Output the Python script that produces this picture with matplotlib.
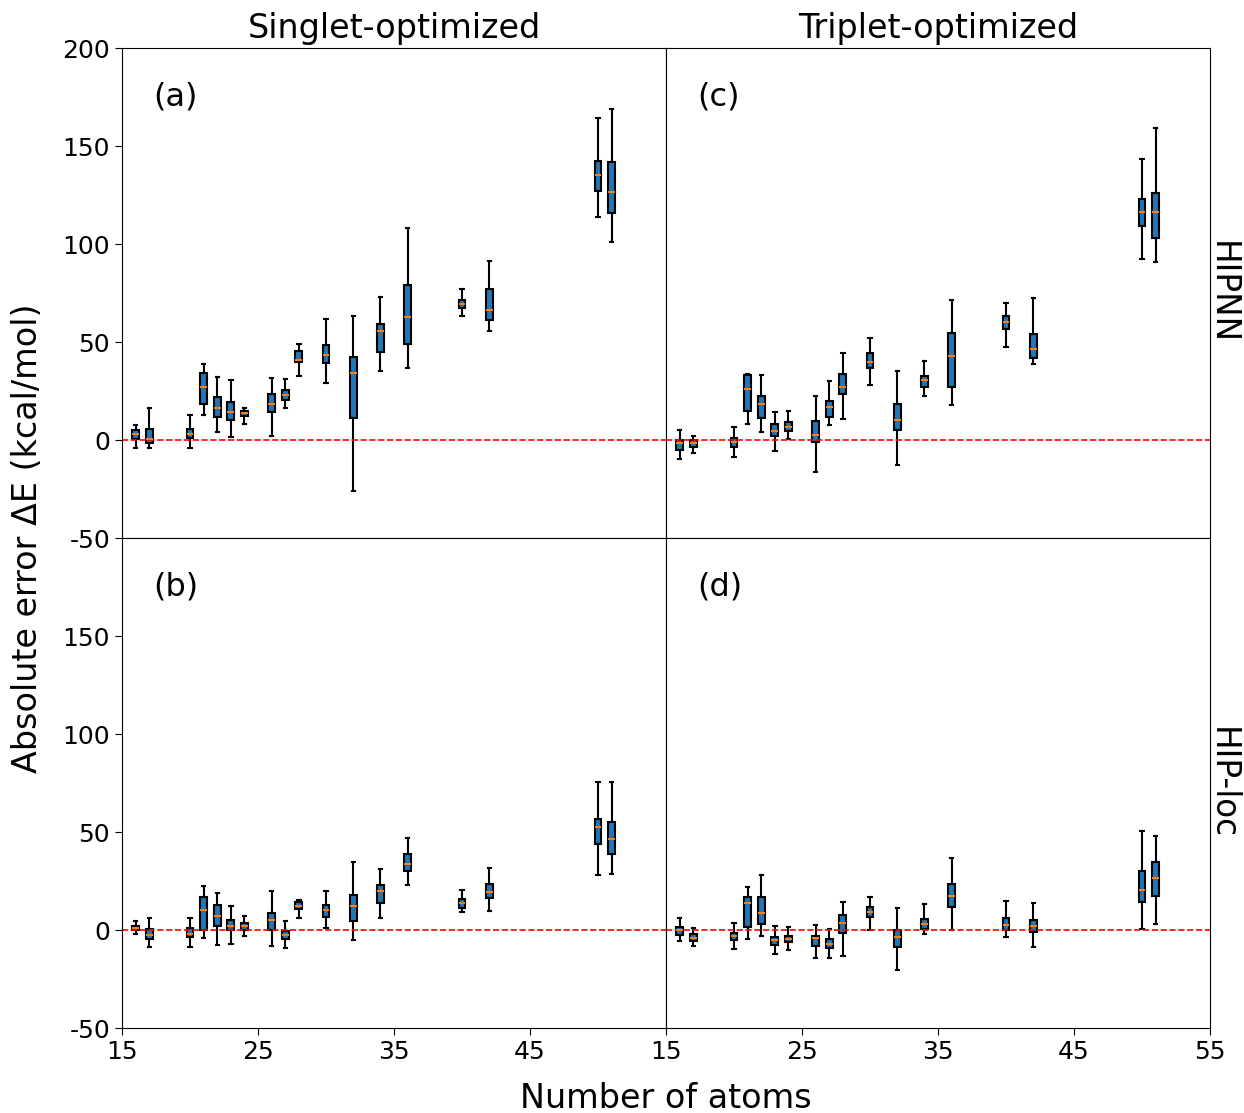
import matplotlib
matplotlib.use("Agg")
import matplotlib.pyplot as plt

# number of atoms for each box
atoms = [16, 17, 20, 21, 22, 23, 24, 26, 27, 28, 30, 32, 34, 36, 40, 42, 50, 51]

# (whisker low, Q1, median, Q3, whisker high) for each box, in kcal/mol
# (a) HIPNN, singlet-optimized
stats_a = [(-4.2, 0.3, 3.2, 4.9, 7.6), (-4.2, -1.4, 0.7, 5.8, 16.5),
           (-4.2, 1.0, 3.2, 5.8, 12.6), (12.6, 18.2, 27.2, 34.3, 38.9),
           (3.9, 11.7, 16.3, 21.9, 32.1), (1.5, 10.0, 14.3, 19.2, 30.6),
           (8.3, 12.1, 13.6, 15.0, 16.5), (2.2, 14.1, 18.2, 23.5, 31.6),
           (16.3, 20.4, 23.1, 25.5, 31.3), (32.7, 39.6, 41.0, 45.2, 48.8),
           (28.9, 39.3, 43.5, 48.6, 61.7), (-25.8, 11.2, 34.3, 42.2, 63.1),
           (35.2, 45.1, 55.8, 59.2, 73.0), (36.7, 49.1, 62.9, 79.1, 108.3),
           (63.4, 67.5, 69.4, 71.4, 77.0), (55.8, 61.0, 66.5, 77.0, 91.5),
           (113.9, 127.2, 135.4, 142.3, 164.5), (101.2, 116.0, 126.7, 141.8, 169.1)]
# (b) HIP-loc, singlet-optimized
stats_b = [(-2.2, -0.2, 1.0, 2.2, 4.8), (-8.5, -4.6, -2.7, 0.5, 6.3),
           (-8.5, -3.6, -1.9, 1.2, 6.3), (-4.3, -0.2, 10.2, 16.8, 22.3),
           (-7.8, 1.9, 7.3, 12.6, 19.0), (-7.1, -0.2, 2.0, 5.3, 12.1),
           (-2.9, -0.2, 2.2, 3.7, 7.3), (-8.2, -0.2, 5.3, 8.8, 20.1),
           (-9.2, -4.4, -2.6, -0.5, 4.4), (6.3, 10.5, 12.2, 14.3, 15.5),
           (1.2, 6.8, 10.2, 12.9, 19.9), (-5.3, 4.6, 12.2, 17.7, 34.7),
           (6.3, 13.9, 20.1, 23.0, 31.1), (23.0, 29.9, 33.8, 38.8, 47.1),
           (9.2, 11.1, 13.6, 16.0, 20.4), (9.9, 16.3, 19.4, 23.5, 31.5),
           (28.2, 43.7, 52.6, 56.5, 75.5), (28.7, 38.8, 46.4, 54.9, 75.5)]
# (c) HIPNN, triplet-optimized
stats_c = [(-9.7, -5.1, -1.5, 0.2, 5.3), (-6.5, -3.4, -1.7, 0.0, 2.2),
           (-8.7, -3.4, -1.0, 1.0, 6.8), (8.3, 14.6, 26.0, 33.0, 33.7),
           (4.3, 11.0, 18.5, 22.3, 33.3), (-5.4, 2.0, 4.8, 8.0, 14.3),
           (0.7, 4.8, 6.8, 9.2, 14.8), (-16.3, -0.8, 2.7, 9.5, 22.6),
           (7.5, 11.6, 17.0, 20.1, 30.1), (10.9, 23.5, 27.2, 33.5, 44.4),
           (28.1, 36.9, 39.6, 44.2, 51.9), (-12.8, 5.1, 10.2, 18.5, 35.4),
           (22.4, 27.0, 30.5, 32.5, 40.3), (17.7, 27.2, 42.9, 54.6, 71.4),
           (47.3, 56.8, 60.0, 63.3, 70.1), (38.8, 41.8, 46.4, 54.3, 72.6),
           (92.3, 109.2, 116.5, 123.1, 143.2), (90.7, 103.0, 116.3, 126.0, 159.0)]
# (d) HIP-loc, triplet-optimized
stats_d = [(-5.4, -2.4, 0.2, 1.4, 6.0), (-8.0, -5.6, -3.9, -2.0, 1.0),
           (-9.5, -4.9, -3.2, -1.5, 3.7), (-4.6, 1.7, 13.8, 17.0, 21.9),
           (-3.2, 3.2, 8.8, 16.7, 28.1), (-12.1, -7.8, -4.9, -3.6, 2.2),
           (-10.0, -6.1, -4.6, -3.1, 1.5), (-14.3, -8.0, -4.3, -2.9, 2.7),
           (-14.5, -9.2, -7.1, -4.8, 0.5), (-13.3, -1.4, 3.4, 7.5, 14.3),
           (-0.2, 6.5, 9.0, 11.9, 16.8), (-20.6, -8.8, -3.7, -0.2, 11.2),
           (-2.0, 0.7, 2.9, 5.8, 13.4), (-0.2, 11.7, 17.2, 23.5, 36.9),
           (-3.4, -0.2, 2.7, 6.0, 15.0), (-8.7, -1.2, 2.2, 4.9, 13.8),
           (0.5, 14.3, 20.4, 29.9, 50.3), (3.1, 17.2, 26.7, 34.7, 48.1)]

col_titles = ["Singlet-optimized", "Triplet-optimized"]
row_titles = ["HIPNN", "HIP-loc"]
yticks_top = [-50, 0, 50, 100, 150, 200]
yticks_bottom = [-50, 0, 50, 100, 150]
xticks_left = [15, 25, 35, 45]
xticks_right = [15, 25, 35, 45, 55]


def to_bxp(stats):
    out = []
    for lo, q1, med, q3, hi in stats:
        out.append(dict(whislo=lo, q1=q1, med=med, q3=q3, whishi=hi, fliers=[]))
    return out


fig, axes = plt.subplots(2, 2, figsize=(12.44, 11.13), dpi=100)
fig.subplots_adjust(left=122 / 1244, right=1210 / 1244, top=1 - 48 / 1113,
                    bottom=1 - 1028 / 1113, wspace=0, hspace=0)

grid = [[stats_a, stats_c], [stats_b, stats_d]]
labels = [["(a)", "(c)"], ["(b)", "(d)"]]

for r in range(2):
    for c in range(2):
        ax = axes[r][c]
        ax.bxp(to_bxp(grid[r][c]), positions=atoms, widths=0.5,
               patch_artist=True, showfliers=False,
               boxprops=dict(facecolor="#1f77b4", edgecolor="black", linewidth=1.5),
               whiskerprops=dict(color="black", linewidth=1.5),
               capprops=dict(color="black", linewidth=1.5),
               medianprops=dict(color="#ff7f0e", linewidth=1.5))
        ax.axhline(0, color="red", linestyle="--", linewidth=1.2)
        ax.set_xlim(15, 55)
        ax.set_ylim(-50, 200)
        ax.text(0.057, 0.9, labels[r][c], transform=ax.transAxes,
                fontsize=23, ha="left", va="center")

        if c == 0:
            yt = yticks_top if r == 0 else yticks_bottom
            ax.set_yticks(yt)
            ax.set_yticklabels([str(v) for v in yt])
            ax.tick_params(axis="y", labelsize=18, length=5)
        else:
            ax.set_yticks([])
            ax.text(0.993, 0.5, row_titles[r], transform=ax.transAxes,
                    rotation=270, fontsize=23.5, ha="left", va="center")

        if r == 1:
            xt = xticks_left if c == 0 else xticks_right
            ax.set_xticks(xt)
            ax.set_xticklabels([str(v) for v in xt])
            ax.tick_params(axis="x", labelsize=18, length=5)
        else:
            ax.set_xticks([])
            ax.set_title(col_titles[c], fontsize=24, pad=7)

fig.text(28 / 1244, 0.5 * ((1 - 48 / 1113) + (1 - 1028 / 1113)),
         "Absolute error ΔE (kcal/mol)", rotation=90, fontsize=24,
         ha="center", va="center")
fig.text(666 / 1244, 1 - 1098 / 1113, "Number of atoms", fontsize=24,
         ha="center", va="center")

fig.savefig("out.png", dpi=100)
